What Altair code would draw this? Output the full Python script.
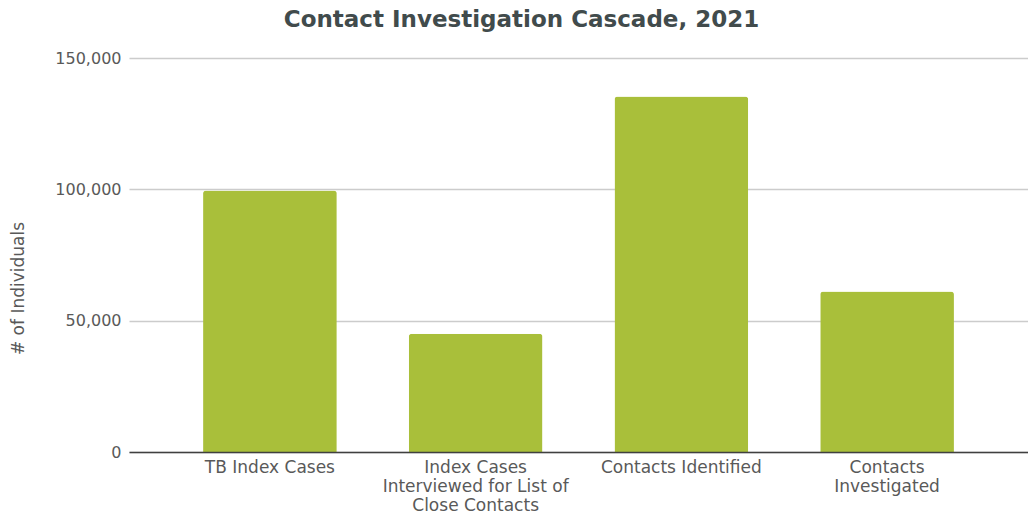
import altair as alt
import pandas as pd

categories = [
    "TB Index Cases",
    "Index Cases\nInterviewed for List of\nClose Contacts",
    "Contacts Identified",
    "Contacts\nInvestigated",
]
values = [99600, 45000, 135300, 61100]
y_ticks = [0, 50000, 100000, 150000]

df = pd.DataFrame({"category": categories, "value": values})

FONT = "DejaVu Sans"
GRAY = "#595959"

chart = (
    alt.Chart(df)
    .mark_bar(color="#a9bf3a", cornerRadiusTopLeft=3, cornerRadiusTopRight=3)
    .encode(
        x=alt.X(
            "category:N",
            sort=categories,
            title=None,
            scale=alt.Scale(paddingInner=0.35, paddingOuter=0.36),
            axis=alt.Axis(
                labelAngle=0,
                labelExpr="split(datum.label, '\\n')",
                labelFont=FONT,
                labelFontSize=17,
                labelLineHeight=19,
                labelColor=GRAY,
                labelPadding=7,
                labelLimit=400,
                ticks=False,
                domain=True,
                domainColor="#404040",
                domainWidth=1.5,
                grid=False,
                zindex=1,
            ),
        ),
        y=alt.Y(
            "value:Q",
            title="# of Individuals",
            scale=alt.Scale(domain=[0, 150000], nice=False),
            axis=alt.Axis(
                values=y_ticks,
                format=",d",
                labelFont=FONT,
                labelFontSize=16,
                labelColor=GRAY,
                labelPadding=8,
                ticks=False,
                domain=False,
                gridColor="#cccccc",
                gridWidth=1.5,
                titleFont=FONT,
                titleFontSize=17,
                titleFontWeight="normal",
                titleColor=GRAY,
                titleAngle=270,
                titleAlign="center",
                titleBaseline="middle",
                titleX=-111,
                titleY=230,
            ),
        ),
    )
    .properties(
        width=899,
        height=394,
        autosize=alt.AutoSizeParams(type="none"),
        padding={"left": 129, "top": 58, "right": 0, "bottom": 64},
        title=alt.TitleParams(
            "Contact Investigation Cascade, 2021",
            font=FONT,
            fontSize=23,
            fontWeight="bold",
            color="#414b4c",
            anchor="middle",
            frame="group",
            dx=-57,
            offset=18,
        ),
    )
    .configure_view(stroke=None)
)

chart.save("out.html", embed_options={"renderer": "svg", "actions": False})
